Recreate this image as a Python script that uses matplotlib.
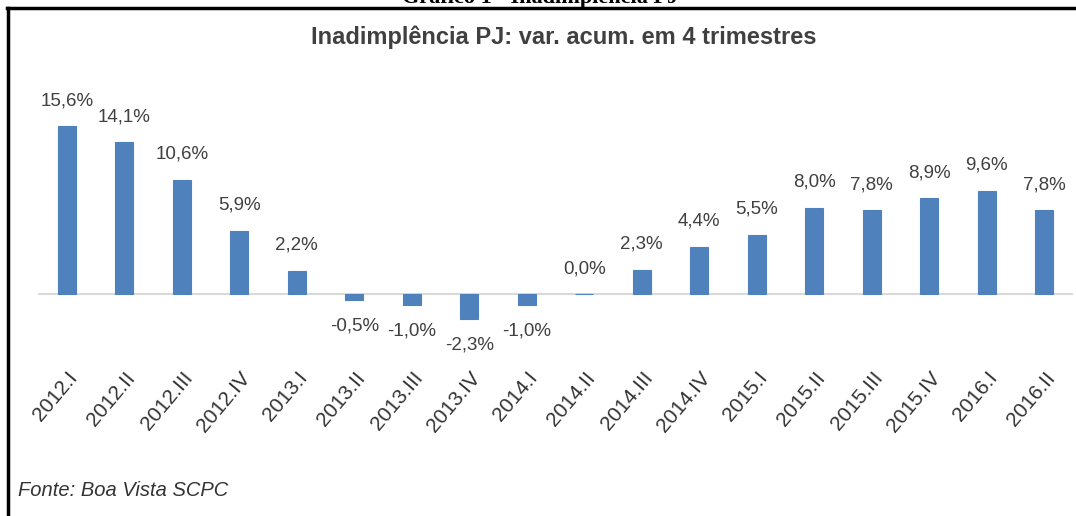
import matplotlib
matplotlib.use("Agg")
import matplotlib.pyplot as plt
from matplotlib.lines import Line2D
import matplotlib.transforms as mtransforms

periods = ["2012.I", "2012.II", "2012.III", "2012.IV",
           "2013.I", "2013.II", "2013.III", "2013.IV",
           "2014.I", "2014.II", "2014.III", "2014.IV",
           "2015.I", "2015.II", "2015.III", "2015.IV",
           "2016.I", "2016.II"]
values = [15.6, 14.1, 10.6, 5.9, 2.2, -0.5, -1.0, -2.3, -1.0,
          0.0, 2.3, 4.4, 5.5, 8.0, 7.8, 8.9, 9.6, 7.8]
labels = ["{:.1f}%".format(v).replace(".", ",") for v in values]

plt.rcParams["font.family"] = ["Liberation Sans", "DejaVu Sans"]

fig = plt.figure(figsize=(10.76, 5.16), dpi=100)
ax = fig.add_axes([38 / 1076, 1 - 360 / 516, 1035 / 1076, 280 / 516])

x = range(len(values))
ax.bar(x, values, width=0.31, color="#4f81bd", edgecolor="#4f81bd", linewidth=0.8)
ax.axhline(0, color="#d9d9d9", lw=1.5, zorder=0)

for xi, v, lab in zip(x, values, labels):
    off = 18.5 if v >= 0 else -19
    ax.annotate(lab, (xi, v), xytext=(0, off), textcoords="offset points",
                ha="center", va="center", fontsize=13.5, color="#404040")

ax.set_xlim(-0.5, len(values) - 0.5)
ax.set_ylim(-6.1, 19.9)
ax.set_yticks([])
ax.set_xticks(list(x))
ax.set_xticklabels(periods, rotation=50, ha="right", va="top",
                   rotation_mode="anchor", fontsize=15, color="#333333")
shift = mtransforms.ScaledTranslation(9 / 100, 0, fig.dpi_scale_trans)
for t in ax.get_xticklabels():
    t.set_transform(t.get_transform() + shift)
ax.tick_params(axis="x", length=0, pad=6)
for s in ax.spines.values():
    s.set_visible(False)

fig.text(564 / 1076, 1 - 37 / 516, "Inadimplência PJ: var. acum. em 4 trimestres",
         ha="center", va="center", fontsize=17, fontweight="bold", color="#404040")
fig.text(18 / 1076, 1 - 491 / 516, "Fonte: Boa Vista SCPC", ha="left", va="center",
         fontsize=14.5, style="italic", color="#333333")
fig.text(540 / 1076, 1 - 3 / 516, "Gráfico 1 - Inadimplência PJ", ha="center",
         va="baseline", fontsize=16, fontweight="bold", family="Liberation Serif")

fig.add_artist(Line2D([7 / 1076, 1], [1 - 8 / 516, 1 - 8 / 516], color="black",
                      lw=2.5, transform=fig.transFigure))
fig.add_artist(Line2D([8 / 1076, 8 / 1076], [1 - 8 / 516, 0], color="black",
                      lw=2.5, transform=fig.transFigure))

fig.savefig("out.png", dpi=100)
